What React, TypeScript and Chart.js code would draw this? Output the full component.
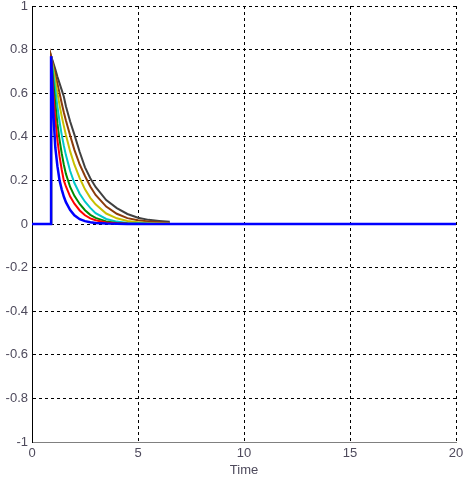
import React, { useEffect, useRef } from "react";
import { Chart, registerables } from "chart.js";

Chart.register(...registerables);

// Shared time samples (s); the last entry (20) is only used by the blue trace
const TIME = [0, 0.9, 0.9, 0.95, 1.0, 1.1, 1.2, 1.3, 1.4, 1.5, 1.6, 1.8, 2.0, 2.25, 2.5, 2.75, 3.0, 3.5, 4.0, 4.5, 5.0, 5.5, 6.0, 6.5, 20];

const BLUE = [0, 0, 0.77, 0.65, 0.52, 0.35, 0.264, 0.2, 0.159, 0.126, 0.1, 0.064, 0.04, 0.022, 0.013, 0.008, 0.005, 0.002, 0.001, 0, 0, 0, 0, 0, 0];
const RED = [0, 0, 0.77, 0.685, 0.6, 0.48, 0.383, 0.31, 0.25, 0.2, 0.172, 0.126, 0.093, 0.062, 0.04, 0.026, 0.017, 0.007, 0.003, 0.001, 0, 0, 0, 0, null];
const GREEN = [0, 0, 0.77, 0.71, 0.655, 0.55, 0.46, 0.386, 0.325, 0.273, 0.23, 0.17, 0.129, 0.092, 0.063, 0.042, 0.028, 0.012, 0.005, 0.002, 0.001, 0, 0, 0, null];
const CYAN = [0, 0, 0.77, 0.73, 0.69, 0.615, 0.538, 0.47, 0.41, 0.36, 0.316, 0.243, 0.188, 0.139, 0.102, 0.074, 0.05, 0.023, 0.011, 0.005, 0.003, 0.001, 0, 0, null];
const YELLOW = [0, 0, 0.77, 0.74, 0.713, 0.657, 0.6, 0.545, 0.495, 0.45, 0.408, 0.333, 0.272, 0.21, 0.159, 0.12, 0.09, 0.048, 0.026, 0.014, 0.008, 0.005, 0.003, 0.002, null];
const BROWN = [0, 0, 0.77, 0.75, 0.727, 0.685, 0.643, 0.6, 0.555, 0.513, 0.475, 0.406, 0.34, 0.273, 0.22, 0.172, 0.133, 0.08, 0.047, 0.027, 0.017, 0.012, 0.008, 0.005, null];
const GRAY = [0, 0, 0.77, 0.755, 0.74, 0.71, 0.675, 0.645, 0.615, 0.585, 0.54, 0.47, 0.41, 0.33, 0.26, 0.21, 0.17, 0.11, 0.073, 0.046, 0.029, 0.019, 0.014, 0.01, null];

const X_TICKS = [0, 5, 10, 15, 20];
const Y_TICKS = [1, 0.8, 0.6, 0.4, 0.2, 0, -0.2, -0.4, -0.6, -0.8, -1];
const X_TITLE = "Time";

const SERIES: { name: string; values: (number | null)[]; color: string; width: number }[] = [
  { name: "s1", values: BLUE, color: "#0000ff", width: 2.5 },
  { name: "s2", values: RED, color: "#ff0000", width: 2 },
  { name: "s3", values: GREEN, color: "#008c00", width: 2 },
  { name: "s4", values: CYAN, color: "#00c8c8", width: 2 },
  { name: "s5", values: YELLOW, color: "#c8c000", width: 2 },
  { name: "s6", values: BROWN, color: "#8c3c0a", width: 2 },
  { name: "s7", values: GRAY, color: "#404040", width: 2 },
];

const FONT = "'Liberation Sans', Arial, sans-serif";
const TEXT_COLOR = "#4e4a5c";

export default function App() {
  const ref = useRef<HTMLCanvasElement | null>(null);

  useEffect(() => {
    if (!ref.current) return;
    const datasets = SERIES.map((s) => ({
      label: s.name,
      data: TIME.map((t, i) => ({ x: t, y: s.values[i] })),
      borderColor: s.color,
      backgroundColor: s.color,
      borderWidth: s.width,
      pointRadius: 0,
      tension: 0,
      fill: false,
      spanGaps: false,
    }));

    const chart = new Chart(ref.current, {
      type: "line",
      data: { datasets: datasets as any },
      options: {
        animation: false,
        responsive: false,
        devicePixelRatio: 1,
        layout: { padding: { top: 6, right: 10, bottom: 0, left: 0 } },
        plugins: { legend: { display: false }, tooltip: { enabled: false } },
        scales: {
          x: {
            type: "linear",
            min: 0,
            max: 20,
            afterBuildTicks: (scale: any) => {
              scale.ticks = X_TICKS.map((v) => ({ value: v }));
            },
            afterFit: (scale: any) => {
              scale.height = 38;
              scale.paddingLeft = 0;
              scale.paddingRight = 0;
            },
            ticks: {
              color: TEXT_COLOR,
              font: { family: FONT, size: 13 },
              padding: 4,
              maxRotation: 0,
              autoSkip: false,
            },
            grid: { color: "#000", lineWidth: 1, drawTicks: false },
            border: { display: true, color: "#808080", width: 1, dash: [3, 3] },
            title: {
              display: true,
              text: X_TITLE,
              color: TEXT_COLOR,
              font: { family: FONT, size: 13 },
              padding: { top: 0, bottom: 2 },
            },
          },
          y: {
            type: "linear",
            min: -1,
            max: 1,
            afterBuildTicks: (scale: any) => {
              scale.ticks = Y_TICKS.map((v) => ({ value: v }));
            },
            afterFit: (scale: any) => {
              scale.width = 32;
              scale.paddingTop = 0;
              scale.paddingBottom = 0;
            },
            ticks: {
              color: TEXT_COLOR,
              font: { family: FONT, size: 13 },
              padding: 4,
              autoSkip: false,
              callback: (v: any) => String(+Number(v).toFixed(1)),
            },
            grid: { color: "#000", lineWidth: 1, drawTicks: false },
            border: { display: true, color: "#000", width: 1, dash: [3, 3] },
          },
        },
      },
    });
    return () => chart.destroy();
  }, []);

  return (
    <div style={{ position: "fixed", left: 0, top: 0, width: 466, height: 480, background: "#fff" }}>
      <canvas ref={ref} width={466} height={480} />
    </div>
  );
}
